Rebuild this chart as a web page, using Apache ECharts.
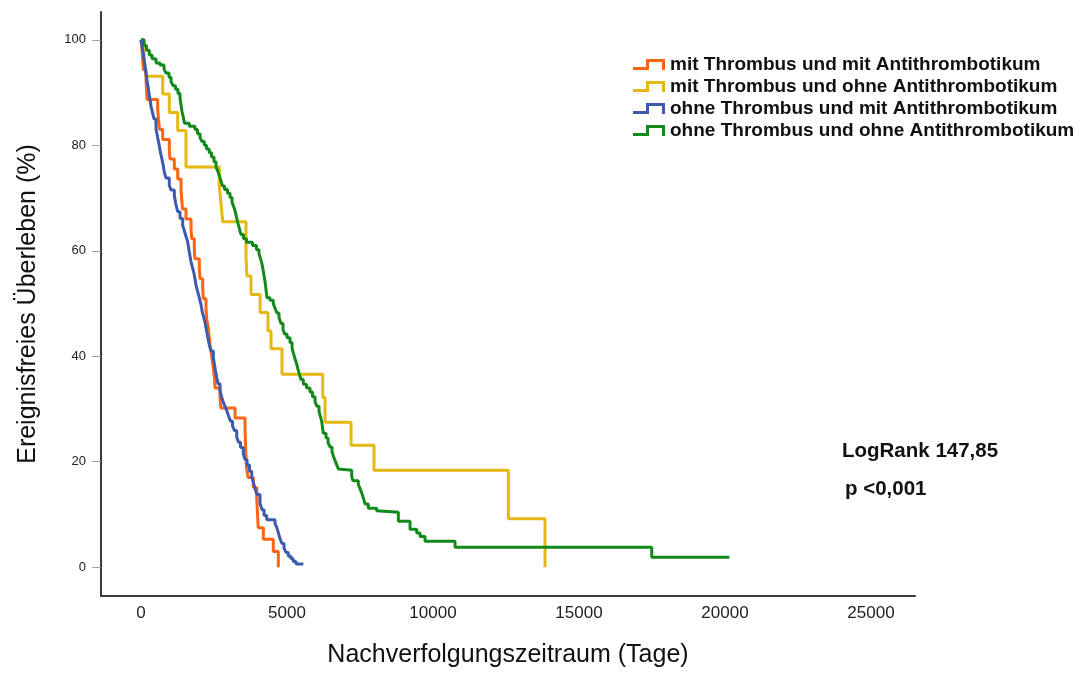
<!DOCTYPE html>
<html>
<head>
<meta charset="utf-8">
<script src="https://cdn.jsdelivr.net/npm/echarts@6/dist/echarts.min.js"></script>
<style>
  html, body { margin: 0; padding: 0; background: #ffffff; }
  #chart { width: 1083px; height: 673px; }
</style>
</head>
<body>
<div id="chart"></div>
<script>
// Kaplan-Meier curves: follow-up time in days, event-free survival in percent
const groupNames = [
  'mit Thrombus und mit Antithrombotikum',
  'mit Thrombus und ohne Antithrombotikum',
  'ohne Thrombus und mit Antithrombotikum',
  'ohne Thrombus und ohne Antithrombotikum'
];

const orangeDays = [0, 34, 58, 86, 171, 188, 206, 572, 599, 634, 743, 969, 993, 1141, 1257, 1370, 1394, 1421, 1541, 1713, 1736, 1826, 1843, 1997, 2021, 2113, 2134, 2226, 2250, 2305, 2339, 2380, 2432, 2476, 2517, 2535, 2706, 2733, 3220, 3562, 3572, 3583, 3596, 3613, 3665, 3846, 3963, 3980, 3997, 4014, 4189, 4531, 4703];
const orangeSurv = [100, 98.1, 96.2, 94.3, 92.5, 90.6, 88.7, 86.8, 84.9, 83.0, 81.1, 79.2, 77.4, 75.5, 73.6, 71.7, 69.8, 67.9, 66.0, 64.2, 62.3, 60.4, 58.5, 56.6, 54.7, 52.8, 50.9, 49.0, 47.1, 45.3, 43.4, 41.5, 39.6, 37.7, 35.8, 34.0, 32.1, 30.2, 28.3, 26.4, 24.5, 22.6, 20.8, 18.9, 17.0, 15.1, 13.2, 11.3, 9.4, 7.5, 5.3, 3.0, 0];

const yellowDays = [0, 103, 171, 743, 969, 1257, 1541, 2682, 2740, 2798, 3596, 3630, 3768, 4080, 4350, 4453, 4829, 6223, 6302, 7193, 7980, 12580, 13837];
const yellowSurv = [100, 96.6, 93.1, 89.7, 86.2, 82.8, 75.9, 72.4, 69.0, 65.5, 58.6, 55.2, 51.7, 48.3, 44.8, 41.4, 36.6, 32.2, 27.5, 23.1, 18.4, 9.2, 0];

const blueDays = [0, 34, 68, 103, 137, 171, 206, 240, 274, 308, 342, 394, 445, 514, 565, 627, 668, 719, 764, 798, 856, 969, 1028, 1141, 1182, 1216, 1257, 1336, 1428, 1490, 1541, 1599, 1644, 1678, 1713, 1764, 1815, 1850, 1884, 1935, 1987, 2055, 2090, 2141, 2192, 2226, 2261, 2305, 2346, 2398, 2476, 2517, 2552, 2593, 2637, 2706, 2757, 2809, 2877, 2935, 2997, 3065, 3134, 3202, 3278, 3339, 3408, 3504, 3562, 3631, 3716, 3792, 3853, 3905, 3973, 4076, 4144, 4213, 4305, 4590, 4658, 4709, 4761, 4829, 4898, 4966, 5045, 5138, 5216, 5309, 5559];
const blueSurv = [100, 98.9, 97.7, 96.4, 95.0, 93.7, 92.3, 91.2, 89.9, 88.7, 87.4, 86.2, 85.0, 83.1, 81.6, 79.9, 78.6, 77.3, 76.1, 74.9, 73.8, 72.4, 71.5, 70.5, 69.2, 68.3, 67.4, 66.1, 64.8, 63.7, 62.7, 61.7, 60.1, 59.0, 57.9, 56.8, 55.7, 54.6, 53.5, 52.4, 51.3, 49.8, 48.6, 47.5, 46.4, 45.4, 44.3, 43.1, 42.0, 41.0, 39.7, 38.4, 37.2, 36.0, 34.8, 33.5, 32.4, 31.4, 30.5, 29.7, 28.7, 27.7, 26.8, 25.9, 24.7, 23.7, 22.7, 21.5, 20.4, 19.4, 18.2, 17.1, 16.0, 14.9, 13.8, 12.1, 10.9, 9.8, 9.0, 8.3, 7.4, 6.4, 5.4, 4.5, 3.6, 2.8, 2.1, 1.6, 1.1, 0.6, 0.6];

const greenDays = [0, 103, 188, 284, 377, 514, 651, 788, 856, 959, 1028, 1096, 1182, 1267, 1336, 1370, 1404, 1449, 1490, 1654, 1850, 1935, 2021, 2089, 2168, 2243, 2339, 2415, 2500, 2569, 2637, 2689, 2740, 2791, 2860, 2963, 3048, 3117, 3185, 3237, 3278, 3322, 3374, 3425, 3511, 3613, 3819, 3956, 4042, 4093, 4144, 4179, 4213, 4247, 4271, 4292, 4316, 4418, 4531, 4590, 4658, 4727, 4795, 4864, 4915, 5001, 5103, 5172, 5223, 5275, 5333, 5377, 5429, 5480, 5559, 5668, 5788, 5874, 5960, 6028, 6097, 6148, 6189, 6216, 6244, 6336, 6405, 6473, 6542, 6593, 6645, 6703, 6764, 6816, 7216, 7261, 7443, 7501, 7559, 7621, 7672, 7785, 8072, 8128, 8813, 9213, 9443, 9556, 9727, 10755, 17491, 20149];
const greenSurv = [100, 98.9, 98.0, 97.1, 96.4, 95.6, 95.2, 94.5, 93.7, 92.9, 92.1, 91.3, 90.6, 89.8, 88.9, 87.7, 86.4, 85.3, 84.2, 83.6, 83.0, 82.2, 81.5, 80.7, 80.0, 79.3, 78.6, 77.8, 76.9, 75.9, 75.0, 74.1, 73.2, 72.3, 71.6, 70.9, 70.1, 69.2, 68.2, 67.2, 66.2, 65.2, 64.1, 63.1, 62.3, 61.6, 61.0, 60.2, 59.4, 58.5, 57.5, 56.4, 55.3, 54.2, 53.1, 52.1, 51.1, 50.6, 50.0, 49.1, 48.2, 47.3, 46.2, 45.1, 44.2, 43.5, 42.6, 41.6, 40.5, 39.5, 38.5, 37.5, 36.5, 35.6, 34.7, 34.0, 33.2, 32.3, 31.4, 30.5, 29.5, 28.5, 27.6, 26.5, 25.4, 24.5, 23.6, 22.8, 21.9, 21.0, 20.2, 19.4, 18.6, 18.4, 17.2, 16.4, 15.7, 14.9, 14.1, 13.0, 12.0, 11.2, 10.7, 10.4, 8.7, 7.2, 6.5, 5.8, 4.9, 3.8, 1.9, 1.9];

const xTicks = [0, 5000, 10000, 15000, 20000, 25000];
const yTicks = [0, 20, 40, 60, 80, 100];

const xTitle = 'Nachverfolgungszeitraum (Tage)';
const yTitle = 'Ereignisfreies Überleben (%)';
const statLines = ['LogRank 147,85', 'p <0,001'];

const colors = {
  orange: '#fb6514',
  yellow: '#e5b814',
  blue: '#3d5aae',
  green: '#118a1a'
};

const pairs = (days, surv) => days.map((d, i) => [d, surv[i]]);

// step-shaped legend symbol (low on the left, high on the right, drop at the end)
const stepIcon = 'path://M0,8 L13,8 L13,0 L32,0 L32,11 L29,11 L29,3 L16,3 L16,11 L0,11 Z';

const makeSeries = (name, color, data, z) => ({
  name: name,
  type: 'line',
  step: 'end',
  data: data,
  showSymbol: false,
  symbol: 'none',
  z: z,
  lineStyle: { color: color, width: 3 },
  itemStyle: { color: color },
  emphasis: { disabled: true },
  silent: true
});

const chart = echarts.init(document.getElementById('chart'), null, { renderer: 'canvas' });

chart.setOption({
  animation: false,
  backgroundColor: '#ffffff',
  grid: { left: 101, right: 168, top: 12, bottom: 73, containLabel: false },
  legend: {
    orient: 'vertical',
    left: 633,
    top: 55,
    padding: 0,
    itemGap: 3,
    itemWidth: 32,
    itemHeight: 11,
    selectedMode: false,
    icon: stepIcon,
    itemStyle: { borderWidth: 0 },
    textStyle: {
      fontFamily: 'Liberation Sans, Arial, sans-serif',
      fontWeight: 'bold',
      fontSize: 19,
      lineHeight: 19,
      color: '#111111'
    },
    data: groupNames
  },
  xAxis: {
    type: 'value',
    min: -1370,
    max: 26507,
    name: xTitle,
    nameLocation: 'middle',
    nameGap: 47,
    nameTextStyle: { fontFamily: 'Liberation Sans, Arial, sans-serif', fontSize: 25, color: '#111111' },
    axisLine: { show: true, onZero: false, lineStyle: { color: '#3a3a3a', width: 2 } },
    axisTick: { show: false },
    splitLine: { show: false },
    axisLabel: {
      customValues: xTicks,
      formatter: (v) => String(v),
      margin: 9,
      fontFamily: 'Liberation Sans Narrow, Liberation Sans, Arial, sans-serif',
      fontSize: 17,
      color: '#222222'
    }
  },
  yAxis: {
    type: 'value',
    min: -5.46,
    max: 105.27,
    name: yTitle,
    nameLocation: 'middle',
    nameGap: 60,
    nameRotate: 90,
    nameTextStyle: { fontFamily: 'Liberation Sans, Arial, sans-serif', fontSize: 25, color: '#111111' },
    axisLine: { show: true, onZero: false, lineStyle: { color: '#3a3a3a', width: 2 } },
    axisTick: { show: true, customValues: yTicks, length: 9, inside: false, lineStyle: { color: '#a0a0a0', width: 1 } },
    splitLine: { show: false },
    axisLabel: {
      customValues: yTicks,
      margin: 15,
      fontFamily: 'Liberation Sans, Arial, sans-serif',
      fontSize: 13,
      color: '#222222'
    }
  },
  graphic: [
    {
      type: 'text',
      left: 842,
      top: 441,
      style: { text: statLines[0], fontFamily: 'Liberation Sans, Arial, sans-serif', fontWeight: 'bold', fontSize: 20.5, fill: '#111111' }
    },
    {
      type: 'text',
      left: 845,
      top: 479,
      style: { text: statLines[1], fontFamily: 'Liberation Sans, Arial, sans-serif', fontWeight: 'bold', fontSize: 20.5, fill: '#111111' }
    }
  ],
  series: [
    makeSeries(groupNames[1], colors.yellow, pairs(yellowDays, yellowSurv), 2),
    makeSeries(groupNames[0], colors.orange, pairs(orangeDays, orangeSurv), 3),
    makeSeries(groupNames[3], colors.green, pairs(greenDays, greenSurv), 4),
    makeSeries(groupNames[2], colors.blue, pairs(blueDays, blueSurv), 5)
  ]
});
</script>
</body>
</html>
